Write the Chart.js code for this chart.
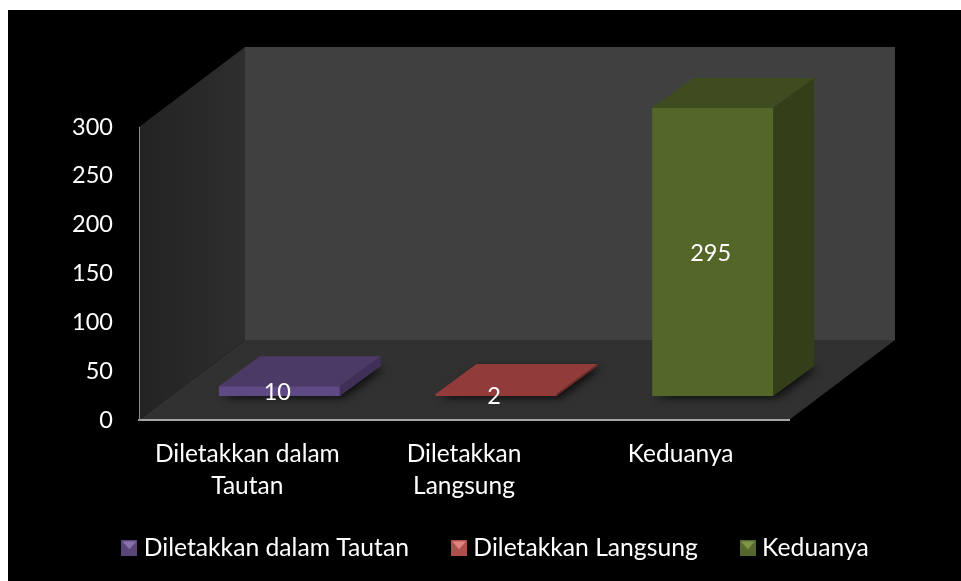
<!DOCTYPE html>
<html>
<head>
<meta charset="utf-8">
<style>
  html, body { margin: 0; padding: 0; background: #fff; }
  #wrap { position: absolute; left: 0; top: 0; width: 961px; height: 581px; }
</style>
<script src="https://cdn.jsdelivr.net/npm/chart.js@4/dist/chart.umd.min.js"></script>
</head>
<body>
<div id="wrap"><canvas id="chart" width="961" height="581"></canvas></div>
<script>
const categories = [['Diletakkan dalam', 'Tautan'], ['Diletakkan', 'Langsung'], ['Keduanya']];
const legendNames = ['Diletakkan dalam Tautan', 'Diletakkan Langsung', 'Keduanya'];
const values = [10, 2, 295];
const tickStep = 50;
const tickMax = 300;

const frontColors = ['#5f4a85', '#953a38', '#556629'];
const topColors = ['#4c3a66', '#913c3a', '#3f4c1f'];
const sideColors = ['#403058', '#702a28', '#333f19'];
const iconColors = ['#5a4578', '#b04e4b', '#56672e'];
const iconLights = ['#8b72ad', '#e08480', '#7f9648'];

const FONT = 'Lato';
// bars stand this far behind the axis plane, and are this deep
const barShift = { x: 32, y: -24 };
const barDepth = { x: 41, y: -30 };
const wallDepth = { x: 106, y: -80 };

function poly(ctx, pts, fill) {
    ctx.beginPath();
    pts.forEach((p, i) => i ? ctx.lineTo(p[0], p[1]) : ctx.moveTo(p[0], p[1]));
    ctx.closePath();
    ctx.fillStyle = fill;
    ctx.fill();
}

// icono de la leyenda con bisel
function legendIcon(body, light) {
    const c = document.createElement('canvas');
    c.width = 16; c.height = 16;
    const x = c.getContext('2d');
    x.fillStyle = body;
    x.fillRect(0, 0, 16, 16);
    poly(x, [[1, 1], [15, 1], [8, 9]], light);
    return c;
}

const walls = {
    id: 'walls',
    afterLayout(chart) {
        chart.legend.top = 488;
    },
    beforeDraw(chart) {
        const { ctx, chartArea: a } = chart;
        const d = wallDepth;
        ctx.save();
        ctx.fillStyle = '#000';
        ctx.fillRect(8, 10, 953, 571);
        poly(ctx, [[a.left + d.x, a.top + d.y], [a.right + d.x, a.top + d.y], [a.right + d.x, a.bottom + d.y], [a.left + d.x, a.bottom + d.y]], '#404040');
        const side = ctx.createLinearGradient(a.left, 0, a.left + d.x, 0);
        side.addColorStop(0, '#232323');
        side.addColorStop(1, '#2e2e2e');
        poly(ctx, [[a.left, a.top], [a.left + d.x, a.top + d.y], [a.left + d.x, a.bottom + d.y], [a.left, a.bottom]], side);
        poly(ctx, [[a.left, a.bottom], [a.right, a.bottom], [a.right + d.x, a.bottom + d.y], [a.left + d.x, a.bottom + d.y]], '#313131');
        ctx.restore();
    }
};

const bars3d = {
    id: 'bars3d',
    beforeDatasetDraw(chart, args) {
        const { ctx } = chart;
        const d = barDepth;
        ctx.save();
        ctx.translate(barShift.x, barShift.y);
        args.meta.data.forEach((bar, i) => {
            const l = bar.x - bar.width / 2, r = bar.x + bar.width / 2;
            // sombra en el piso
            ctx.save();
            ctx.shadowColor = 'rgba(0,0,0,0.75)';
            ctx.shadowBlur = 9;
            ctx.shadowOffsetX = 4;
            ctx.shadowOffsetY = 2;
            poly(ctx, [[l, bar.base], [r, bar.base], [r + d.x, bar.base + d.y], [l + d.x, bar.base + d.y]], '#2a2a2a');
            ctx.restore();
            poly(ctx, [[l, bar.y], [r, bar.y], [r + d.x, bar.y + d.y], [l + d.x, bar.y + d.y]], topColors[i]);
            poly(ctx, [[r, bar.y], [r + d.x, bar.y + d.y], [r + d.x, bar.base + d.y], [r, bar.base]], sideColors[i]);
        });
    },
    afterDatasetDraw(chart) {
        chart.ctx.restore();
    },
    afterDatasetsDraw(chart) {
        const { ctx } = chart;
        ctx.save();
        ctx.font = '23.5px ' + FONT;
        ctx.fillStyle = '#fff';
        ctx.textAlign = 'center';
        ctx.textBaseline = 'middle';
        chart.getDatasetMeta(0).data.forEach((bar, i) => {
            ctx.fillText(values[i], bar.x + barShift.x - 2, (bar.y + bar.base) / 2 + barShift.y + 1.5);
        });
        ctx.restore();
    }
};

new Chart(document.getElementById('chart'), {
    type: 'bar',
    data: {
        labels: categories,
        datasets: [{
            data: values,
            backgroundColor: frontColors,
            categoryPercentage: 1,
            barPercentage: 0.558
        }]
    },
    plugins: [walls, bars3d],
    options: {
        responsive: false,
        animation: false,
        layout: { padding: { left: 35, top: 127, right: 0, bottom: 0 } },
        scales: {
            x: {
                grid: { display: false },
                border: { color: '#a6a6a6', width: 2 },
                ticks: {
                    color: '#fff',
                    font: { family: FONT, size: 24.5, lineHeight: 1.32 },
                    padding: 10,
                    maxRotation: 0,
                    autoSkip: false
                },
                afterFit(s) { s.height = 85; }
            },
            y: {
                min: 0,
                max: tickMax,
                grid: { display: false },
                border: { color: '#8c8c8c', width: 1 },
                ticks: {
                    stepSize: tickStep,
                    color: '#fff',
                    font: { family: FONT, size: 23.5 },
                    padding: 18
                },
                afterFit(s) { s.width = 104; }
            },
            // solo reserva el espacio a la derecha del eje
            spacer: {
                position: 'right',
                grid: { display: false },
                border: { display: false },
                ticks: { display: false },
                afterFit(s) { s.width = 172; }
            }
        },
        plugins: {
            tooltip: { enabled: false },
            legend: {
                position: 'bottom',
                maxHeight: 76,
                labels: {
                    color: '#fff',
                    font: { family: FONT, size: 24.7 },
                    padding: 48,
                    usePointStyle: true,
                    pointStyleWidth: 4,
                    generateLabels() {
                        return legendNames.map((name, i) => ({
                            text: name,
                            fontColor: '#fff',
                            pointStyle: legendIcon(iconColors[i], iconLights[i]),
                            fillStyle: frontColors[i],
                            strokeStyle: frontColors[i],
                            lineWidth: 0,
                            index: i
                        }));
                    }
                }
            }
        }
    }
});
</script>
</body>
</html>
